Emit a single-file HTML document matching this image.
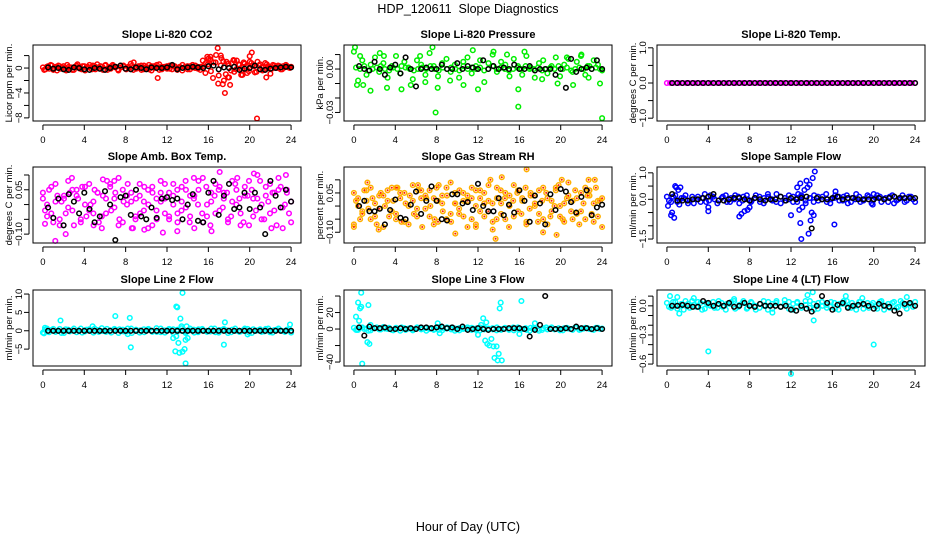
<!DOCTYPE html>
<html><head><meta charset="utf-8"><style>
html,body{margin:0;padding:0;background:#fff;}
svg{display:block;font-family:"Liberation Sans",sans-serif;}
</style></head><body>
<svg id="chart" width="936" height="540" viewBox="0 0 936 540">
<text x="468" y="13" font-size="12.5" text-anchor="middle" xml:space="preserve">HDP_120611  Slope Diagnostics</text>
<text x="468" y="531" font-size="12.5" text-anchor="middle">Hour of Day (UTC)</text>
</svg>
<script>
// ---------- data ----------
const xTicks = [0,4,8,12,16,20,24];
const panelTitles = ["Slope Li-820 CO2","Slope Li-820 Pressure","Slope Li-820 Temp.","Slope Amb. Box Temp.","Slope Gas Stream RH","Slope Sample Flow","Slope Line 2 Flow","Slope Line 3 Flow","Slope Line 4 (LT) Flow"];
const yLabels = ["Licor ppm per min.","kPa per min.","degrees C per min.","degrees C per min.","percent per min.","ml/min per min.","ml/min per min.","ml/min per min.","ml/min per min."];

const co2Band1 = [0.1,-0.2,0.3,0.5,-0.3,0.2,0.4,-0.1,0.3,-0.4,0.2,0.1,-0.3,0.4,0.2,-0.2,0.3,0.1,0.5,-0.2,0.3,0.6,-0.1,0.2,0.4,-0.3,0.2,0.5,0.1,-0.2,0.4,0.3,-0.1,0.2,0.7,-0.3,0.1,0.3,0.4,-0.2,0.2,0.5,-0.4,0.3,0.1,0.6,-0.2,0.2,0.3,-0.1,0.4,0.2,-0.3,0.1,0.5,0.2,-0.2,0.3,0.1,0.4,-0.1,0.2,0.3,0.8,1.5,-0.5,0.9,2.1,-1.2,1.6,-2.0,1.0,-1.5,0.8,-0.6,1.2,0.5,-0.3,0.7,-0.8,1.9,0.4,-0.7,1.0,0.6,-0.4,0.8,0.3,-0.9,0.5,0.2,0.4,-0.2,0.3,0.5,0.1,0.2];
const co2Band2 = [-0.3,0.2,-0.1,0.4,0.0,-0.4,0.3,0.1,-0.2,0.5,0.0,-0.3,0.2,0.6,-0.1,0.3,-0.4,0.2,0.0,0.4,-0.2,0.1,0.3,-0.3,0.5,0.0,-0.1,0.3,0.2,-0.4,0.1,0.4,-0.2,0.0,0.3,0.9,-0.1,0.2,-0.3,0.4,0.1,-0.2,0.3,0.0,0.5,-0.3,0.2,0.1,-0.1,0.4,-0.2,0.3,0.0,0.2,-0.4,0.1,0.3,-0.2,0.5,0.0,0.2,-0.3,1.2,-0.8,0.6,1.8,-1.6,0.9,-2.5,0.4,1.1,-1.0,0.7,-0.4,1.3,-0.2,0.6,-1.1,0.9,0.2,-0.5,0.8,0.3,-0.6,0.4,0.1,-0.3,0.6,0.2,-0.1,0.4,0.0,0.3,-0.2,0.1,0.3,0.0];
const co2OutT = [11.1,16.9,17.4,17.6,18.1,17.9,20.2,20.7,15.9,21.6,18.5,20.0,16.2,17.2,19.3];
const co2OutV = [-1.6,3.2,-2.6,-4.0,-2.7,-1.5,2.5,-8.1,1.8,-1.5,1.2,1.0,1.4,2.0,-1.1];
const co2Mean = [0.1,-0.1,0.0,-0.2,-0.3,0.1,0.0,-0.2,-0.3,0.0,-0.1,-0.3,0.0,0.2,0.4,-0.1,-0.2,0.1,0.0,-0.2,0.1,0.0,0.0,0.1,0.5,-0.2,0.0,0.1,0.2,0.1,0.0,0.3,0.4,-0.2,0.1,0.0,0.2,-0.3,-0.1,0.0,0.4,-0.2,-0.3,-0.1,0.0,0.1,0.2,0.1];

const presBand1 = [0.012,-0.008,0.006,-0.004,0.003,0.008,-0.002,0.004,-0.006,0.002,0.009,-0.003,0.005,0.001,-0.007,0.006,0.003,-0.004,0.011,0.002,-0.005,0.004,0.007,-0.002,0.003,-0.006,0.005,0.008,-0.003,0.002,0.006,-0.009,0.004,0.01,-0.002,0.005,0.003,-0.005,0.007,0.002,-0.004,0.009,0.001,-0.006,0.004,0.006,-0.003,0.002,0.008,-0.005,0.003,0.007,-0.002,0.005,0.009,-0.004,0.002,0.006,0.003,-0.001];
const presBand2 = [0.001,0,0.002,-0.001,0,0.001,0.002,0,-0.001,0.001,0,0.002,0.001,0,-0.001,0,0.001,0,0.002,0,-0.001,0.001,0,0.001,0,-0.001,0.002,0,0.001,0,0.001,-0.001,0,0.002,0,0.001,0,-0.001,0,0.001,0,0.002,0,0,0.001,-0.001,0,0.001,0,0.002,0,0.001,-0.001,0,0.001,0,0.002,0,0.001,0];
const presOutT = [0.1,0.6,1.6,2.5,3.2,4.6,5.5,6.9,7.6,7.9,8.1,10.6,12.0,11.5,13.5,15.9,15.9,16.5,18.2,19.7,21.2,22.0,23.8,24.0,0.3,0.9,2.9,6.4,9.3,14.8,20.6,22.7];
const presOutV = [0.015,0.009,-0.015,0.011,-0.013,-0.014,-0.011,-0.009,0.015,-0.030,-0.013,-0.011,-0.014,0.013,0.012,-0.014,-0.026,0.012,-0.007,-0.010,-0.011,0.010,-0.010,-0.034,-0.011,-0.011,0.009,0.009,-0.008,0.010,0.008,-0.006];
const presMean = [0.002,0,-0.001,0.005,0,-0.004,0.001,0.003,-0.003,0.008,0,-0.012,0,0.001,0,0,0.003,0,0,0.004,0,0.002,0.001,0,0.006,0,0.002,0,0.001,0,0.003,0,0,0.002,-0.001,0,0,0,-0.004,0,-0.013,0.007,-0.002,0,0.001,0,0.006,0];

const tempBand1 = [0,0,0,0,0,0,0,0,0,0,0,0,0,0,0,0,0,0,0,0,0,0,0,0,0,0,0,0,0,0,0,0,0,0,0,0,0,0,0,0,0,0,0,0,0,0,0,0,0,0,0,0,0,0,0,0,0,0,0,0,0,0,0,0,0,0,0,0,0,0,0,0,0,0,0,0,0,0,0,0];
const tempMean = [0,0,0,0,0,0,0,0,0,0,0,0,0,0,0,0,0,0,0,0,0,0,0,0,0,0,0,0,0,0,0,0,0,0,0,0,0,0,0,0,0,0,0,0,0,0,0,0];

const ambBand1 = [0.02,-0.04,0.06,0.01,-0.07,0.03,0.08,-0.02,0.05,-0.05,0.0,0.07,-0.03,0.04,-0.08,0.02,0.06,-0.01,0.09,-0.06,0.03,0.01,-0.04,0.07,-0.02,0.05,-0.07,0.02,0.08,-0.03,0.04,0.0,-0.06,0.06,-0.01,0.03,-0.08,0.05,0.09,-0.04,0.01,0.07,-0.02,0.04,-0.06,0.08,0.0,-0.03,0.06,-0.07,0.02,0.1,-0.05,0.03,0.07,-0.02,0.05,-0.08,0.04,0.01];
const ambBand2 = [-0.02,0.05,-0.06,0.03,0.01,-0.03,0.04,-0.07,0.02,0.06,-0.04,0.0,0.05,-0.06,0.03,0.08,-0.02,0.04,-0.05,0.01,0.07,-0.08,0.02,-0.03,0.06,0.0,0.04,-0.05,0.01,0.07,-0.04,0.03,0.05,-0.02,0.08,-0.06,0.02,0.0,-0.03,0.06,-0.07,0.03,0.05,-0.01,0.04,-0.04,0.07,0.02,-0.06,0.03,0.05,-0.02,0.08,-0.05,0.01,0.04,-0.07,0.06,0.0,-0.03];
const ambBand3 = [0.04,0.0,-0.03,0.07,-0.05,0.02,-0.01,0.05,0.03,-0.06,0.06,-0.02,0.01,0.04,-0.04,-0.03,0.07,0.02,-0.07,0.05,0.0,0.04,-0.05,0.03,0.01,-0.08,0.06,-0.02,0.04,0.02,-0.05,0.07,-0.03,0.01,0.05,-0.04,0.03,0.08,-0.06,0.0,0.04,-0.03,0.06,0.02,-0.05,0.01,0.05,-0.07,0.03,0.08,-0.04,0.02,0.0,0.06,-0.03,0.04,0.09,-0.01,0.05,-0.06];
const ambOutT = [1.2,2.2,0.2,2.8,6.9,9.8,11.6,17.1,18.8,20.4,23.5,16.3,13.0,4.9,5.8,8.7,14.6,22.1];
const ambOutV = [-0.123,-0.10,-0.065,0.09,0.08,-0.085,-0.095,0.11,0.09,0.105,0.10,-0.09,-0.09,-0.07,0.085,-0.08,0.09,-0.08];
const ambMean = [-0.01,-0.045,0.02,-0.07,0.035,0.01,-0.03,0.04,-0.015,-0.06,-0.04,0.045,0.0,-0.12,0.025,0.03,-0.035,0.05,-0.04,-0.05,-0.01,-0.045,0.02,0.025,0.015,0.02,-0.05,0.0,0.035,-0.055,-0.06,0.04,0.08,-0.035,0.03,0.07,-0.015,-0.01,0.04,-0.015,0.04,-0.01,-0.1,0.08,0.03,-0.01,0.05,0.01];

const rhBand1 = [-0.07,0.03,-0.02,0.06,-0.05,0.01,0.04,-0.08,0.02,0.07,-0.03,0.05,-0.06,0.0,0.08,-0.04,0.03,-0.01,0.06,-0.07,0.02,0.04,-0.05,0.09,0.01,-0.03,0.05,-0.08,0.03,0.0,0.06,-0.04,0.02,-0.09,0.07,0.01,-0.05,0.04,0.08,-0.02,0.03,-0.06,0.05,0.0,-0.03,0.07,-0.07,0.02,0.06,-0.04,0.01,0.09,-0.05,0.03,-0.02,0.07,0.04,-0.06,0.02,-0.08];
const rhBand2 = [0.02,-0.05,0.06,-0.01,0.03,-0.07,0.05,0.0,-0.04,0.02,0.07,-0.06,0.01,0.04,-0.03,0.06,-0.08,0.03,0.0,-0.05,0.08,-0.02,0.04,-0.06,0.01,0.06,-0.04,0.02,0.07,-0.07,0.03,0.05,-0.02,0.01,-0.05,0.06,0.03,-0.08,0.02,0.05,-0.03,0.07,-0.01,0.04,-0.06,0.02,0.05,-0.04,0.0,0.08,-0.05,0.03,-0.02,0.06,-0.07,0.01,0.04,-0.03,0.07,0.02];
const rhBand3 = [0.05,0.0,-0.03,0.02,0.07,-0.04,-0.01,0.04,0.06,-0.02,-0.05,0.03,0.05,-0.07,0.02,-0.01,0.06,0.04,-0.04,0.03,-0.06,0.01,0.07,-0.03,0.05,-0.01,0.02,0.04,-0.05,0.06,-0.02,0.01,0.08,-0.06,0.03,-0.03,0.05,0.0,-0.04,0.06,0.02,-0.07,0.04,0.01,0.06,-0.05,0.03,-0.02,0.07,0.0,-0.06,0.04,0.02,-0.03,0.05,-0.05,0.06,0.01,-0.04,0.03];
const rhOutT = [0.0,1.3,4.1,6.2,8.0,9.8,11.8,13.7,14.3,16.7,18.3,19.6,20.1,22.7,23.3,13.2,2.4];
const rhOutV = [-0.08,0.09,0.07,0.08,0.07,-0.105,-0.08,-0.125,0.11,0.14,-0.1,-0.11,0.1,0.1,0.1,0.1,-0.09];
const rhMean = [0.0,0.02,-0.02,-0.02,-0.01,-0.07,-0.015,0.025,-0.045,-0.05,0.005,0.055,-0.03,0.02,0.075,0.02,-0.05,-0.055,0.045,0.045,0.01,0.015,-0.015,0.085,0.0,-0.02,-0.02,0.03,-0.035,0.005,-0.025,0.06,0.02,-0.06,0.04,0.01,-0.07,0.045,-0.015,0.065,0.055,0.015,-0.025,0.035,0.06,-0.035,-0.005,0.005];

const flowBand1 = [0.1,-0.1,0.15,-0.05,0.05,-0.15,0.1,0.0,-0.1,0.2,-0.05,0.1,-0.15,0.05,0.15,-0.1,0.0,0.1,-0.05,0.15,-0.1,0.05,0.1,-0.15,0.2,0.0,-0.1,0.1,-0.05,0.15,-0.1,0.05,0.1,-0.15,0.05,0.15,-0.05,0.1,-0.1,0.0,0.15,-0.05,0.1,-0.15,0.05,0.2,-0.1,0.0,0.1,-0.05,0.15,-0.1,0.05,0.1,-0.15,0.0,0.15,-0.05,0.1,-0.1];
const flowBand2 = [-0.05,0.1,-0.1,0.05,0.15,-0.05,-0.15,0.1,0.05,-0.1,0.15,0.0,-0.05,0.1,-0.1,0.05,0.15,-0.15,0.1,0.0,-0.05,0.15,-0.1,0.05,0.1,-0.05,0.2,-0.15,0.05,0.0,0.1,-0.1,0.15,-0.05,0.05,-0.1,0.1,0.0,0.2,-0.15,0.05,0.1,-0.05,0.15,-0.1,0.0,0.1,-0.05,0.15,-0.15,0.05,0.1,0.0,-0.1,0.15,-0.05,0.05,-0.1,0.1,0.0];
const flowOutT = [0.1,0.4,0.5,0.7,0.8,0.9,1.1,1.3,1.2,4.0,4.0,7.0,7.2,7.5,7.8,8.0,12.0,12.6,12.9,13.0,12.8,13.3,13.6,13.8,14.1,14.3,14.0,14.2,13.7,13.9,12.7,13.1,16.2,16.3,19.9,20.0,12.9,13.5];
const flowOutV = [-0.25,-0.6,-0.5,-0.7,0.5,0.45,0.35,0.45,-0.2,-0.3,-0.45,-0.65,-0.55,-0.45,-0.4,-0.3,-0.6,0.45,-0.9,-1.5,-0.4,0.35,0.45,0.55,0.8,1.05,-0.5,-0.6,-1.3,-0.8,0.2,-0.3,-0.95,0.3,-0.2,0.2,0.6,0.7];
const flowMean = [0.2,-0.05,-0.05,-0.05,0.0,0.0,0.05,0.1,0.2,-0.05,-0.05,0.0,0.05,0.05,0.0,-0.05,0.05,0.0,-0.05,0.0,0.0,0.1,-0.05,0.05,0.0,0.05,0.1,-1.1,0.05,0.0,0.0,0.05,0.1,0.0,0.05,0.05,0.0,0.0,0.0,0.0,0.05,0.0,0.05,0.1,0.05,0.05,0.05,0.05];

const l2Band1 = [-0.5,0.6,0.2,-0.3,0.5,-0.6,0.3,0.1,-0.4,0.6,-0.2,0.4,-0.5,0.2,0.7,-0.3,0.1,0.5,-0.6,0.3,-0.2,0.6,0.0,-0.5,0.4,0.2,-0.3,0.7,-0.4,0.1,0.5,-0.6,0.3,0.0,-0.2,0.6,-0.5,0.4,0.1,-0.3,0.6,-0.4,0.2,0.5,-0.6,0.3,0.0,-0.2,0.6,-0.5,0.4,0.1,-0.3,0.5,-0.4,0.2,0.6,-0.1,0.3,-0.5];
const l2Band2 = [0.3,-0.4,0.5,0.0,-0.6,0.4,-0.2,0.6,0.1,-0.5,0.3,0.0,0.6,-0.3,-0.1,0.5,-0.5,0.2,0.4,-0.2,0.6,-0.6,0.3,0.1,-0.4,0.5,0.0,-0.3,0.6,-0.5,0.2,0.4,-0.2,0.7,-0.6,0.1,0.3,-0.4,0.5,0.0,-0.2,0.6,-0.5,0.3,0.1,-0.4,0.6,-0.3,0.2,0.5,-0.6,0.0,0.4,-0.2,0.6,-0.5,0.3,0.1,-0.3,0.5];
const l2OutT = [0.1,0.2,1.7,4.8,7.0,8.2,8.4,8.5,12.6,12.8,12.9,13.0,13.1,13.2,13.3,13.5,13.5,13.7,13.8,13.8,13.9,14.0,12.9,17.5,17.6,23.9,19.8,13.4];
const l2OutV = [-0.7,0.8,2.8,1.2,4.0,-0.9,3.5,-4.5,-2.0,-5.6,6.6,6.4,-3.3,-6.0,3.3,10.3,-5.7,-5.0,-2.5,-8.9,1.2,-2.0,-1.5,-3.8,2.3,1.7,-1.0,1.2];
const l2Mean = [0,0,0,0,0,0,0,0,0,0,0,0,0,0,0,0,0,0,0,0,0,0,0,0,0,0,0,0,0,0,0,0,0,0,0,0,0,0,0,0,0,0,0,0,0,0,0,0];

const l3Band1 = [1.5,-1.0,2.0,0.5,-1.5,1.0,-0.5,2.5,0.0,-1.0,1.5,-2.0,1.0,0.5,-1.5,2.0,-0.5,1.0,0.0,-1.0,2.5,-1.5,0.5,1.5,-2.0,1.0,0.0,2.0,-1.0,0.5,-1.5,1.5,0.0,-0.5,2.0,-1.0,1.0,0.5,-1.5,2.0,0.0,-1.0,1.5,0.5,-2.0,1.0,-0.5,2.0,0.0,-1.5,1.0,0.5,-1.0,2.0,-0.5,1.5,0.0,-1.0,1.5,0.5];
const l3Band2 = [-1.0,1.5,0.0,-2.0,1.0,2.0,-0.5,0.5,1.5,-1.5,0.0,2.0,-1.0,1.0,-0.5,1.5,0.5,-2.0,1.0,0.0,-1.0,1.5,2.0,-0.5,0.5,-1.5,1.0,0.0,1.5,-1.0,2.0,-0.5,0.5,1.0,-1.5,0.0,1.5,-1.0,2.0,0.5,-0.5,1.0,-2.0,1.5,0.0,-1.0,2.0,0.5,-0.5,1.0,-1.5,1.5,0.0,2.0,-1.0,0.5,1.0,-0.5,1.5,0.0];
const l3OutT = [0.2,0.3,0.4,0.5,0.6,0.7,0.7,0.8,1.3,1.4,1.5,1.6,8.1,8.3,12.0,12.3,12.5,12.7,12.9,13.1,13.3,13.5,13.6,13.8,13.9,14.0,14.1,14.2,14.3,16.0,16.2,17.5,12.8];
const l3OutV = [15,-1,32,10,25,27,44,-42,-16,29,-18,5,7,-5,-7,5,13,-14,-18,-20,-12,-21,-35,-21,-38,-30,25,32,-38,-6,34,7,8];
const l3Mean = [2,-8,3,1,1,2,0,0,1,0,1,0,2,2,1,2,3,1,2,0,3,-1,0,1,0,-1,0,0,0,1,1,1,0,-9,-1,5,40,0,0,0,1,0,3,1,1,0,1,0];

const l4Band1 = [0.03,-0.02,0.04,0.0,-0.04,0.02,0.05,-0.01,0.03,-0.03,0.01,0.04,-0.02,0.03,-0.04,0.02,0.05,-0.01,0.03,-0.03,0.04,0.0,-0.02,0.05,-0.04,0.02,0.03,-0.01,0.06,-0.03,0.02,0.04,-0.02,0.01,0.05,-0.04,0.03,0.0,-0.02,0.04,-0.03,0.02,0.05,-0.01,0.03,-0.04,0.04,0.01,-0.02,0.03,-0.03,0.05,0.0,-0.02,0.04,-0.01,0.03,-0.03,0.02,0.04];
const l4Band2 = [-0.01,0.04,-0.03,0.02,0.05,-0.02,0.01,0.04,-0.04,0.03,0.0,-0.02,0.05,-0.01,0.02,0.04,-0.03,0.01,0.05,-0.02,0.03,-0.04,0.02,0.0,0.04,-0.03,0.05,-0.01,0.02,0.04,-0.04,0.03,0.0,0.05,-0.02,0.02,-0.03,0.04,0.01,-0.01,0.03,-0.04,0.02,0.05,-0.02,0.0,0.04,-0.03,0.03,0.01,-0.01,0.04,-0.04,0.02,0.03,-0.02,0.05,0.0,0.02,-0.01];
const l4OutT = [0.3,4.0,12.0,14.1,14.2,20.0,17.3,1.0,1.2,2.6,6.5,18.9,23.2,10.2,13.6];
const l4OutV = [0.1,-0.47,-0.70,0.14,-0.15,-0.40,0.10,0.09,-0.08,0.08,0.07,0.08,0.09,-0.07,0.11];
const l4Mean = [0.0,0.0,0.01,0.0,-0.01,-0.01,0.05,0.03,0.0,0.02,0.0,0.03,-0.01,0.0,0.03,0.0,-0.01,0.02,0.0,0.0,0.0,-0.01,0.0,-0.04,-0.05,0.0,-0.03,-0.06,0.0,0.1,0.03,-0.04,0.01,0.03,-0.02,0.0,0.01,0.02,0.0,-0.03,0.02,0.0,-0.01,-0.05,-0.08,0.02,0.03,0.0];

// ---------- layout ----------
const NS = "http://www.w3.org/2000/svg";
const svg = document.getElementById("chart");
const colLeft = [33, 344, 657];
const rowTop = [45, 167, 290];
const boxW = 268, boxH = 76;

const panels = [
 {ylim:[-8.5,3.7], ticks:[2,0,-2,-4,-6,-8], labels:[[0,"0"],[-4,"-4"],[-8,"-8"]], color:"#ff0000", bands:[co2Band1,co2Band2], outT:co2OutT, outV:co2OutV, mean:co2Mean},
 {ylim:[-0.0359,0.0166], ticks:[0.01,0,-0.01,-0.02,-0.03], labels:[[0,"0.00"],[-0.03,"-0.03"]], color:"#00ee00", bands:[presBand1,presBand2], outT:presOutT, outV:presOutV, mean:presMean},
 {ylim:[-1.08,1.08], ticks:[1,0.5,0,-0.5,-1], labels:[[1,"1.0"],[0,"0.0"],[-1,"-1.0"]], color:"#ff00ff", bands:[tempBand1], outT:[], outV:[], mean:tempMean},
 {ylim:[-0.13,0.127], ticks:[0.1,0.05,0,-0.05,-0.1], labels:[[0.05,"0.05"],[-0.1,"-0.10"]], color:"#ff00ff", bands:[ambBand1,ambBand2,ambBand3], outT:ambOutT, outV:ambOutV, mean:ambMean},
 {ylim:[-0.141,0.149], ticks:[0.1,0.05,0,-0.05,-0.1], labels:[[0.05,"0.05"],[-0.1,"-0.10"]], color:"#ffb000", inner:"#ff2000", bands:[rhBand1,rhBand2,rhBand3], outT:rhOutT, outV:rhOutV, mean:rhMean},
 {ylim:[-1.65,1.22], ticks:[1,0.5,0,-0.5,-1,-1.5], labels:[[1,"1.0"],[0,"0.0"],[-1.5,"-1.5"]], color:"#0000ff", bands:[flowBand1,flowBand2], outT:flowOutT, outV:flowOutV, mean:flowMean},
 {ylim:[-9.6,11.1], ticks:[10,5,0,-5], labels:[[10,"10"],[5,"5"],[0,"0"],[-5,"-5"]], color:"#00ffff", bands:[l2Band1,l2Band2], outT:l2OutT, outV:l2OutV, mean:l2Mean},
 {ylim:[-44.8,47.3], ticks:[40,20,0,-20,-40], labels:[[20,"20"],[0,"0"],[-40,"-40"]], color:"#00ffff", bands:[l3Band1,l3Band2], outT:l3OutT, outV:l3OutV, mean:l3Mean},
 {ylim:[-0.62,0.163], ticks:[0.1,0,-0.1,-0.2,-0.3,-0.4,-0.5,-0.6], labels:[[0,"0.0"],[-0.3,"-0.3"],[-0.6,"-0.6"]], color:"#00ffff", bands:[l4Band1,l4Band2], outT:l4OutT, outV:l4OutV, mean:l4Mean}
];

function mk(tag, attrs, parent){
  const e = document.createElementNS(NS, tag);
  for (const k in attrs) e.setAttribute(k, attrs[k]);
  parent.appendChild(e);
  return e;
}
function circ(g, x, y, color, inner){
  const c = mk("circle", {cx:x.toFixed(1), cy:y.toFixed(1), r:2.3, fill:"none", stroke:color, "stroke-width":1.5}, g);
  
  
  if (inner){
    const d = mk("circle", {cx:x.toFixed(1), cy:y.toFixed(1), r:1.0, fill:inner}, g);
    
    
  }
}

panels.forEach((p, idx) => {
  const L = colLeft[idx % 3], T = rowTop[Math.floor(idx / 3)];
  const xs = t => L + (t + 0.96) / 25.92 * boxW;
  const ys = v => T + (p.ylim[1] - v) / (p.ylim[1] - p.ylim[0]) * boxH;
  const g = mk("g", {}, svg);
  
  

  const title = mk("text", {x:L + boxW / 2, y:T - 7, "font-size":11, "font-weight":"bold", "text-anchor":"middle"}, g);
  title.textContent = panelTitles[idx];
  
  

  const yl = mk("text", {x:0, y:0, "font-size":9.5, "text-anchor":"middle", transform:"translate(" + (L - 21) + "," + (T + boxH / 2) + ") rotate(-90)"}, g);
  yl.textContent = yLabels[idx];
  
  

  const pts = mk("g", {}, g);
  
  
  p.bands.forEach((arr, bi) => {
    const n = arr.length;
    arr.forEach((v, i) => {
      const t = bi % 2 === 0 ? i * 24 / (n - 1) : (i + 0.5) * 24 / n;
      circ(pts, xs(t), ys(v), p.color, p.inner);
    });
  });
  p.outT.forEach((t, i) => circ(pts, xs(t), ys(p.outV[i]), p.color, p.inner));
  const mg = mk("g", {}, g);
  
  
  p.mean.forEach((v, i) => circ(mg, xs(0.5 + i * 0.5), ys(v), "#000000"));

  const box = mk("rect", {x:L, y:T, width:boxW, height:boxH, fill:"none", stroke:"#000", "stroke-width":1}, g);
  
  

  const xa = mk("g", {}, g);
  
  
  mk("line", {x1:xs(xTicks[0]), x2:xs(xTicks[xTicks.length - 1]), y1:T + boxH + 4, y2:T + boxH + 4, stroke:"#000"}, xa);
  xTicks.forEach(t => {
    mk("line", {x1:xs(t), x2:xs(t), y1:T + boxH + 4, y2:T + boxH + 9, stroke:"#000"}, xa);
    const tx = mk("text", {x:xs(t), y:T + boxH + 22, "font-size":9.5, "text-anchor":"middle"}, xa);
    tx.textContent = t;
    
    
  });

  const ya = mk("g", {}, g);
  
  
  const tmax = Math.max(...p.ticks), tmin = Math.min(...p.ticks);
  mk("line", {x1:L - 4, x2:L - 4, y1:ys(tmax), y2:ys(tmin), stroke:"#000"}, ya);
  p.ticks.forEach(v => mk("line", {x1:L - 9, x2:L - 4, y1:ys(v), y2:ys(v), stroke:"#000"}, ya));
  p.labels.forEach(([v, s]) => {
    const tx = mk("text", {x:0, y:0, "font-size":9.5, "text-anchor":"middle", transform:"translate(" + (L - 11) + "," + ys(v) + ") rotate(-90)"}, ya);
    tx.textContent = s.replace("-", "\u2212");
    
    
  });
});
</script>
</body></html>
